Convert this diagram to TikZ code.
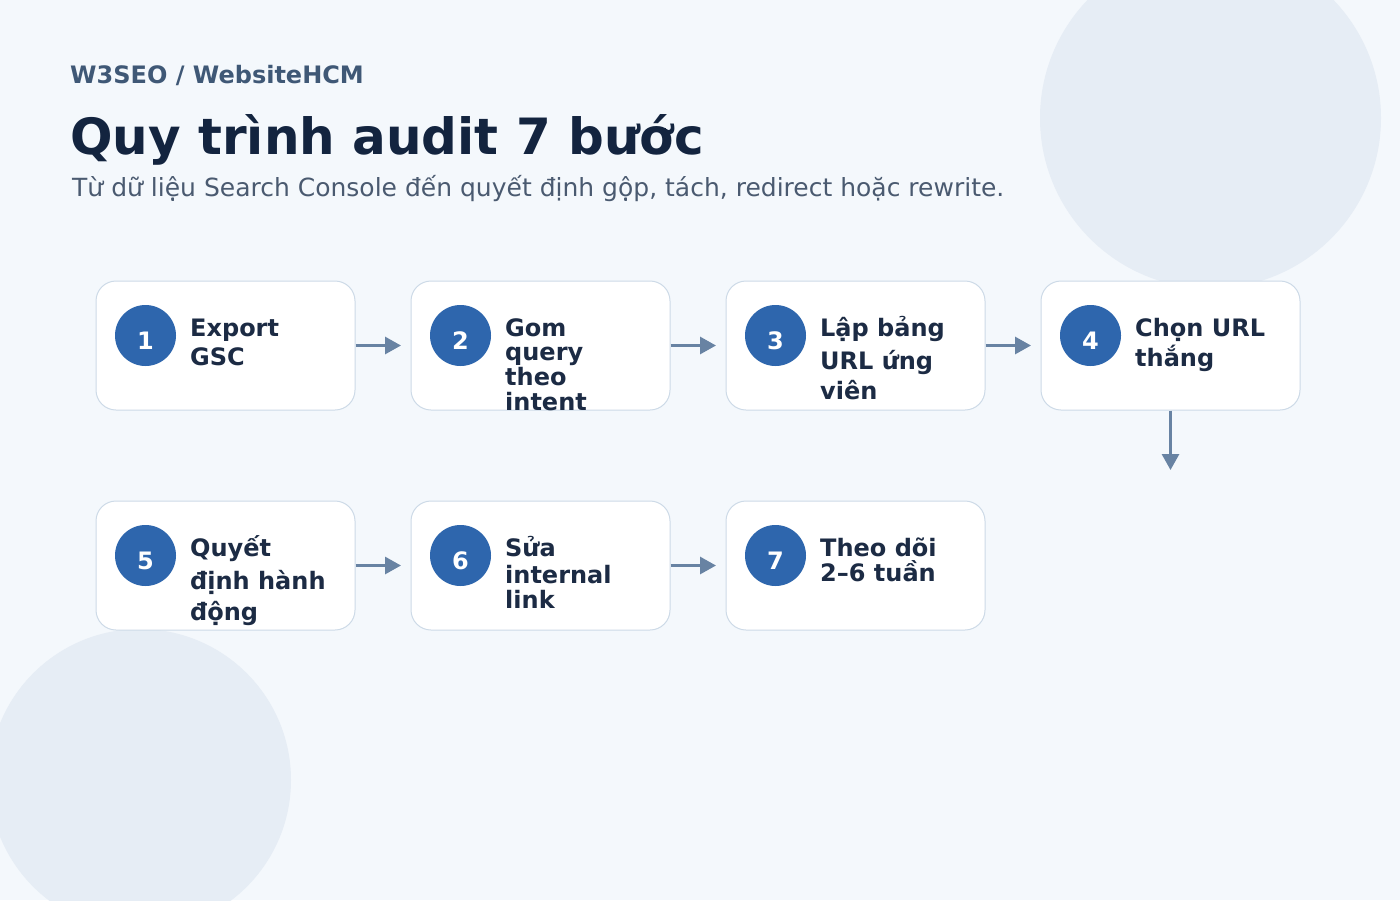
\documentclass[tikz,border=0pt]{standalone}
\usepackage{fontspec}
\setmainfont{DejaVu Sans}
\usetikzlibrary{arrows.meta}
\definecolor{bgc}{HTML}{F4F8FC}
\definecolor{blobc}{HTML}{E6EDF5}
\definecolor{hdrc}{HTML}{3F5876}
\definecolor{titlec}{HTML}{13243F}
\definecolor{subc}{HTML}{4A5A70}
\definecolor{boxb}{HTML}{CDDAE7}
\definecolor{numc}{HTML}{2E66AD}
\definecolor{txtc}{HTML}{1C2B44}
\definecolor{arrc}{HTML}{6883A3}
\tikzset{
  stepbox/.style={draw=boxb, line width=1pt, fill=white, rounded corners=20pt, minimum width=259pt, minimum height=129pt, inner sep=0pt},
  numdot/.style={circle, fill=numc, minimum size=61pt, inner sep=0pt},
  numtxt/.style={anchor=base, inner sep=0pt, text=white, font=\fontsize{24}{24}\selectfont\bfseries},
  ltxt/.style={anchor=base west, inner sep=0pt, text=txtc, font=\fontsize{24}{24}\selectfont\bfseries},
  flow/.style={draw=arrc, line width=3pt, -{Triangle[length=16pt,width=17pt]}},
}
\begin{document}
\begin{tikzpicture}[x=1pt,y=-1pt]
\fill[bgc] (0,0) rectangle (1400,900);
\useasboundingbox (0,0) rectangle (1400,900);
\begin{scope}
\clip (0,0) rectangle (1400,900);
\fill[blobc] (1210.5,118) circle (170.5);
\fill[blobc] (140,780) circle (151);
\end{scope}
\node[anchor=base west, inner sep=0pt, text=hdrc, font=\fontsize{24}{24}\selectfont\bfseries] (hdr) at (70,83) {W3SEO / WebsiteHCM};
\node[anchor=base west, inner sep=0pt, text=titlec, font=\fontsize{50}{50}\selectfont\bfseries] (ttl) at (70,154) {Quy trình audit 7 bước};
\node[anchor=base west, inner sep=0pt, text=subc, font=\fontsize{25}{25}\selectfont] (sub) at (72,196) {Từ dữ liệu Search Console đến quyết định gộp, tách, redirect hoặc rewrite.};
% boxes
\node[stepbox] (b1) at (225.5,345.5) {};
\node[stepbox] (b2) at (540.5,345.5) {};
\node[stepbox] (b3) at (855.5,345.5) {};
\node[stepbox] (b4) at (1170.5,345.5) {};
\node[stepbox] (b5) at (225.5,565.5) {};
\node[stepbox] (b6) at (540.5,565.5) {};
\node[stepbox] (b7) at (855.5,565.5) {};
% number dots
\node[numdot] (n1) at (145.5,335.5) {};
\node[numdot] (n2) at (460.5,335.5) {};
\node[numdot] (n3) at (775.5,335.5) {};
\node[numdot] (n4) at (1090.5,335.5) {};
\node[numdot] (n5) at (145.5,555.5) {};
\node[numdot] (n6) at (460.5,555.5) {};
\node[numdot] (n7) at (775.5,555.5) {};
\node[numtxt] (m1) at (145.5,349.5) {1};
\node[numtxt] (m2) at (460.5,349.5) {2};
\node[numtxt] (m3) at (775.5,349.5) {3};
\node[numtxt] (m4) at (1090.5,349.5) {4};
\node[numtxt] (m5) at (145.5,569.5) {5};
\node[numtxt] (m6) at (460.5,569.5) {6};
\node[numtxt] (m7) at (775.5,569.5) {7};
% labels
\node[ltxt] (t1a) at (190,336) {Export};
\node[ltxt] (t1b) at (190,365) {GSC};
\node[ltxt] (t2a) at (505,336) {Gom};
\node[ltxt] (t2b) at (505,360) {query};
\node[ltxt] (t2c) at (505,385) {theo};
\node[ltxt] (t2d) at (505,410) {intent};
\node[ltxt] (t3a) at (820,336) {Lập bảng};
\node[ltxt] (t3b) at (820,369) {URL ứng};
\node[ltxt] (t3c) at (820,399) {viên};
\node[ltxt] (t4a) at (1135,336) {Chọn URL};
\node[ltxt] (t4b) at (1135,366) {thắng};
\node[ltxt] (t5a) at (190,556) {Quyết};
\node[ltxt] (t5b) at (190,589) {định hành};
\node[ltxt] (t5c) at (190,620) {động};
\node[ltxt] (t6a) at (505,556) {Sửa};
\node[ltxt] (t6b) at (505,583) {internal};
\node[ltxt] (t6c) at (505,608) {link};
\node[ltxt] (t7a) at (820,556) {Theo dõi};
\node[ltxt] (t7b) at (820,581) {2–6 tuần};
% arrows
\coordinate (e1) at (401,345.5);
\coordinate (e2) at (716,345.5);
\coordinate (e3) at (1031,345.5);
\coordinate (e4) at (1170.5,470);
\coordinate (e5) at (401,565.5);
\coordinate (e6) at (716,565.5);
\draw[flow] (b1.east) -- (e1);
\draw[flow] (b2.east) -- (e2);
\draw[flow] (b3.east) -- (e3);
\draw[flow] (b4.south) -- (e4);
\draw[flow] (b5.east) -- (e5);
\draw[flow] (b6.east) -- (e6);
\end{tikzpicture}
\end{document}
